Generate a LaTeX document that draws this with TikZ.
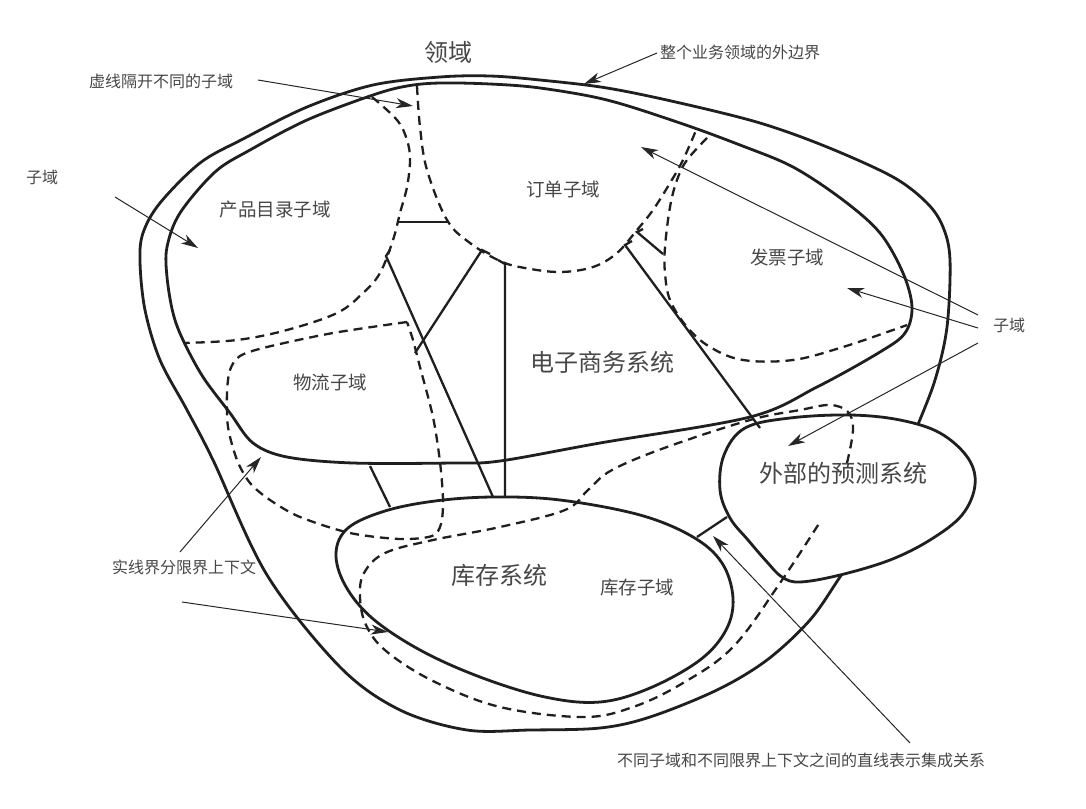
\documentclass[tikz,border=0pt]{standalone}
\usepackage{fontspec}
\setmainfont{Noto Sans CJK SC}
\usetikzlibrary{arrows.meta}
\begin{document}
\begin{tikzpicture}[x=1pt,y=-1pt,
  bound/.style={line width=2.8pt, draw=black!88, line join=round},
  subd/.style={line width=2.3pt, draw=black!88, dash pattern=on 9pt off 6pt},
  link/.style={line width=2.3pt, draw=black!88, line join=miter},
  note/.style={line width=1pt, draw=black!85, -{Stealth[length=17pt,width=10pt,inset=5pt]}},
  small/.style={font=\fontsize{16}{18}\selectfont, text=black!72, inner sep=0pt},
  mid/.style={font=\fontsize{18.5}{20}\selectfont, text=black!72, inner sep=0pt},
  big/.style={font=\fontsize{24}{26}\selectfont, text=black!72, inner sep=0pt},
]
\fill[white] (0,0) rectangle (1086,808);
\useasboundingbox (0,0) rectangle (1086,808);

% outer boundary of the whole domain
\draw[bound] plot[smooth cycle, tension=0.55] coordinates {(373,85) (440,77) (490,76) (540,80) (607,88) (680,103) (760,123) (827,147) (893,177) (927,203) (943,227) (950,260) (947,327) (935,380) (915,432) (890,495) (862,545) (840,577) (810,620) (767,660) (717,690) (650,717) (600,728) (530,730) (467,730) (400,710) (340,667) (267,575) (213,460) (187,410) (160,360) (145,310) (140,262) (143,233) (160,203) (200,163) (243,139) (307,107)};

% e-commerce bounded context
\draw[bound] plot[smooth cycle, tension=0.55] coordinates {(407,86) (440,83) (490,84) (540,88) (607,100) (680,123) (740,145) (793,167) (843,200) (880,233) (903,273) (912,307) (905,333) (880,352) (817,387) (750,417) (600,443) (500,461) (453,463) (353,463) (287,457) (253,443) (230,413) (203,377) (183,340) (173,313) (167,277) (167,247) (180,213) (215,172) (250,150) (307,120) (373,95)};

% external forecasting system
\filldraw[bound, fill=white] plot[smooth cycle, tension=0.6] coordinates {(745,428) (790,418) (850,415) (900,420) (940,433) (968,458) (975,485) (962,515) (930,540) (890,560) (840,575) (800,582) (782,577) (767,562) (748,540) (730,518) (720,490) (724,455)};

% inventory system
\draw[bound] plot[smooth cycle, tension=0.6] coordinates {(493,497) (560,500) (640,515) (693,537) (722,563) (733,598) (726,630) (700,660) (650,688) (600,702) (545,697) (480,677) (420,650) (372,618) (345,585) (336,553) (348,528) (385,511) (435,501)};

% subdomains (dashed)
\draw[subd] plot[smooth, tension=0.6] coordinates {(372,97) (397,120) (407,140) (410,160) (407,187) (400,213) (393,240) (380,273) (363,293) (337,313) (287,330) (237,340) (183,343)};
\draw[subd] plot[smooth, tension=0.6] coordinates {(417,86) (420,127) (427,170) (447,220) (470,243) (500,261) (525,268) (560,272) (593,267) (617,253) (637,230) (653,210) (670,183) (683,160) (697,128)};
\draw[subd] plot[smooth, tension=0.6] coordinates {(707,138) (687,160) (677,180) (670,207) (665,247) (665,273) (670,300) (687,327) (710,347) (743,360) (793,360) (843,347) (893,330) (907,325)};
\draw[subd] plot[smooth, tension=0.5] coordinates {(407,322) (333,333) (267,347) (240,356) (230,370) (227,393) (228,427) (237,460) (250,483) (270,500) (300,517) (350,533) (400,539) (432,536) (441,524) (443,500) (440,462) (433,417) (420,367) (413,340) (407,322)};
\draw[subd] plot[smooth, tension=0.6] coordinates {(847,463) (853,430) (848,412) (830,405) (800,410) (750,420) (667,447) (612,470) (588,490) (565,510) (500,527) (433,540) (385,553) (364,573) (360,597) (366,625) (386,651) (433,681) (500,707) (583,717) (633,707) (683,683) (733,647) (780,583) (820,522)};

% integration lines
\coordinate (pc1) at (397,222); \coordinate (pc2) at (448,222);
\coordinate (pi0) at (390,250); \coordinate (pi1) at (386,256); \coordinate (pi2) at (493,497);
\coordinate (ol0) at (490,254); \coordinate (ol1) at (482,250); \coordinate (ol2) at (415,353);
\coordinate (oi0) at (498,260); \coordinate (oi1) at (505,264); \coordinate (oi2) at (505,496);
\coordinate (of0) at (632,241); \coordinate (of1) at (625,245); \coordinate (of2) at (760,428);
\coordinate (ov0) at (643,229); \coordinate (ov1) at (637,232); \coordinate (ov2) at (663,254);
\coordinate (li1) at (370,466); \coordinate (li2) at (390,507);
\coordinate (if1) at (697,537); \coordinate (if2) at (727,517);
\draw[link] (pc1) -- (pc2);
\draw[link] (pi0) -- (pi1) -- (pi2);
\draw[link] (ol0) -- (ol1) -- (ol2);
\draw[link] (oi0) -- (oi1) -- (oi2);
\draw[link] (of0) -- (of1) -- (of2);
\draw[link] (ov0) -- (ov1) -- (ov2);
\draw[link] (li1) -- (li2);
\draw[link] (if1) -- (if2);

% region labels
\node[big] (lyu) at (448,52) {领域};
\node[mid] (cpml) at (275,210) {产品目录子域};
\node[mid] (dd) at (563,189) {订单子域};
\node[mid] (fp) at (787,257) {发票子域};
\node[mid] (wl) at (330,382) {物流子域};
\node[big] (ds) at (602,362) {电子商务系统};
\node[big] (kcxt) at (499,575) {库存系统};
\node[mid] (kczy) at (637,588) {库存子域};
\node[big] (yc) at (843,473) {外部的预测系统};

% annotations
\node[small] (tb) at (740,52) {整个业务领域的外边界};
\node[small] (txx) at (161,81) {虚线隔开不同的子域};
\node[small] (tzl) at (42,177) {子域};
\node[small] (tzr) at (1009,325) {子域};
\node[small] (tsx) at (184,567) {实线界分限界上下文};
\node[small] (tzx) at (801,760) {不同子域和不同限界上下文之间的直线表示集成关系};

\coordinate (a1s) at (657,53);  \coordinate (a1e) at (584,84);
\coordinate (a2s) at (258,80);  \coordinate (a2e) at (413,106);
\coordinate (a3s) at (115,197); \coordinate (a3e) at (198,248);
\coordinate (a4s) at (978,315); \coordinate (a4e) at (641,147);
\coordinate (a5s) at (978,328); \coordinate (a5e) at (847,288);
\coordinate (a6s) at (978,343); \coordinate (a6e) at (788,446);
\coordinate (a7s) at (180,552); \coordinate (a7e) at (261,457);
\coordinate (a8s) at (182,602); \coordinate (a8e) at (388,632);
\coordinate (a9s) at (910,743); \coordinate (a9e) at (713,536);
\draw[note] (a1s) -- (a1e);
\draw[note] (a2s) -- (a2e);
\draw[note] (a3s) -- (a3e);
\draw[note] (a4s) -- (a4e);
\draw[note] (a5s) -- (a5e);
\draw[note] (a6s) -- (a6e);
\draw[note] (a7s) -- (a7e);
\draw[note] (a8s) -- (a8e);
\draw[note] (a9s) -- (a9e);
\end{tikzpicture}
\end{document}
